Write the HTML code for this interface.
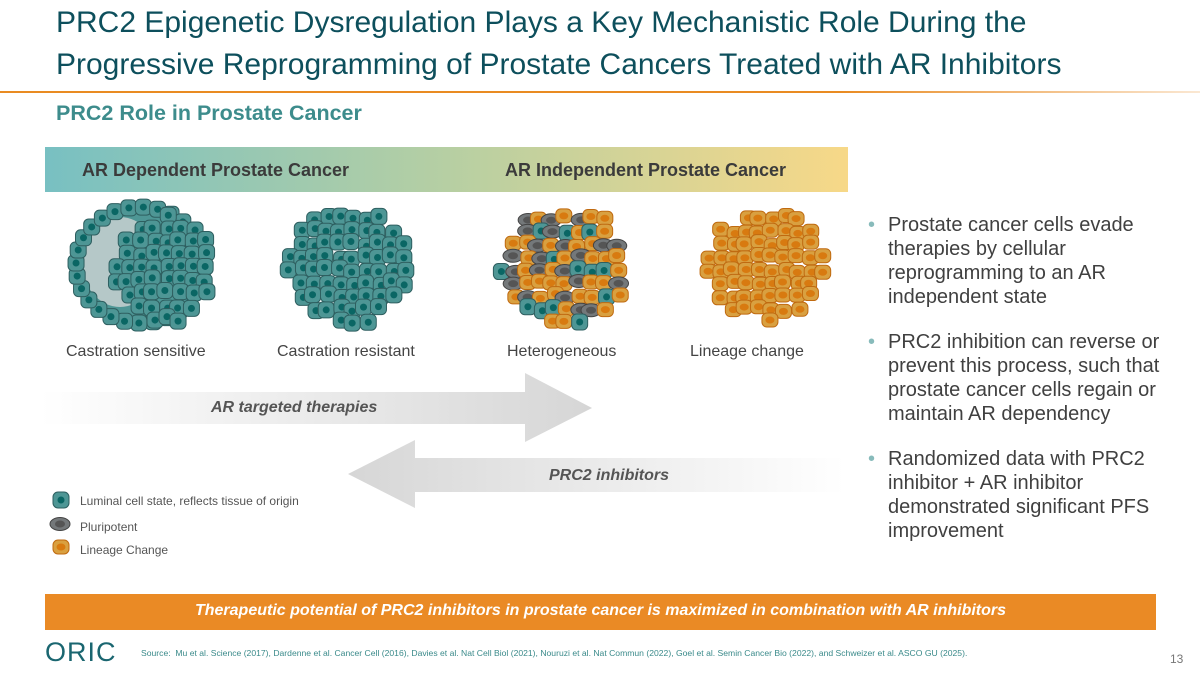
<!DOCTYPE html>
<html><head><meta charset="utf-8"><style>
*{margin:0;padding:0;box-sizing:border-box}
body{width:1200px;height:675px;position:relative;overflow:hidden;background:#fff;font-family:"Liberation Sans",Arial,sans-serif}
.abs{position:absolute;white-space:nowrap}
h1{position:absolute;left:56px;top:2px;font-size:30px;font-weight:normal;color:#0d4f5c;line-height:42px}
</style></head><body>
<h1>PRC2 Epigenetic Dysregulation Plays a Key Mechanistic Role During the<br>Progressive Reprogramming of Prostate Cancers Treated with AR Inhibitors</h1>
<div class="abs" style="left:0;top:91px;width:1200px;height:2px;background:linear-gradient(90deg,#e98b22 0%,#e98b22 70%,rgba(233,139,34,0.2) 100%)"></div>
<div class="abs" style="left:56px;top:101px;font-size:21.5px;font-weight:bold;color:#3d8c8c">PRC2 Role in Prostate Cancer</div>
<div class="abs" style="left:45px;top:147px;width:803px;height:45px;background:linear-gradient(90deg,#78c0c2 0%,#b6cfa3 50%,#f7d888 100%)"></div>
<div class="abs" style="left:82px;top:160px;font-size:18px;font-weight:bold;color:#3b3b3b">AR Dependent Prostate Cancer</div>
<div class="abs" style="left:505px;top:160px;font-size:18px;font-weight:bold;color:#3b3b3b">AR Independent Prostate Cancer</div>
<svg class="abs" style="left:0;top:0" width="1200" height="675" id="s">
<defs>
<linearGradient id="g1" x1="0" x2="1"><stop offset="0" stop-color="#fff"/><stop offset="1" stop-color="#d6d6d6"/></linearGradient>
<linearGradient id="g2" x1="0" x2="1"><stop offset="0" stop-color="#d6d6d6"/><stop offset="1" stop-color="#fff"/></linearGradient>
</defs>
<polygon points="40,392 525,392 525,373 592,408 525,442 525,424 40,424" fill="url(#g1)"/>
<polygon points="845,458 415,458 415,440 348,474 415,508 415,492 845,492" fill="url(#g2)"/>
<g id="cells"></g>
</svg>
<div class="abs" style="left:66px;top:343px;font-size:16px;color:#444">Castration sensitive</div>
<div class="abs" style="left:277px;top:343px;font-size:16px;color:#444">Castration resistant</div>
<div class="abs" style="left:507px;top:343px;font-size:16px;color:#444">Heterogeneous</div>
<div class="abs" style="left:690px;top:343px;font-size:16px;color:#444">Lineage change</div>
<div class="abs" style="left:211px;top:399px;font-size:16px;font-weight:bold;font-style:italic;color:#555">AR targeted therapies</div>
<div class="abs" style="left:549px;top:467px;font-size:16px;font-weight:bold;font-style:italic;color:#555">PRC2 inhibitors</div>
<div class="abs" style="left:80px;top:494px;font-size:12px;color:#555">Luminal cell state, reflects tissue of origin</div>
<div class="abs" style="left:80px;top:520px;font-size:12px;color:#555">Pluripotent</div>
<div class="abs" style="left:80px;top:543px;font-size:12px;color:#555">Lineage Change</div>
<div class="abs" style="left:868px;top:213px;font-size:20px;color:#404040;line-height:24px;white-space:normal;width:320px">
<div style="position:relative;padding-left:20px"><span style="position:absolute;left:0;color:#8bb">•</span>Prostate cancer cells evade therapies by cellular reprogramming to an AR independent state</div>
<div style="position:relative;padding-left:20px;margin-top:21px"><span style="position:absolute;left:0;color:#8bb">•</span>PRC2 inhibition can reverse or prevent this process, such that prostate cancer cells regain or maintain AR dependency</div>
<div style="position:relative;padding-left:20px;margin-top:21px"><span style="position:absolute;left:0;color:#8bb">•</span>Randomized data with PRC2 inhibitor + AR inhibitor demonstrated significant PFS improvement</div>
</div>
<div class="abs" style="left:45px;top:594px;width:1111px;height:36px;background:#ea8a25"></div>
<div class="abs" style="left:45px;top:602px;width:1111px;text-align:center;font-size:16px;font-weight:bold;font-style:italic;color:#fff">Therapeutic potential of PRC2 inhibitors in prostate cancer is maximized in combination with AR inhibitors</div>
<div class="abs" style="left:45px;top:638px;font-size:27px;color:#1a6670;letter-spacing:1px;line-height:28px">ORIC</div>
<div class="abs" style="left:141px;top:648px;font-size:8.6px;color:#3a8a8a">Source:&nbsp; Mu et al. Science (2017), Dardenne et al. Cancer Cell (2016), Davies et al. Nat Cell Biol (2021), Nouruzi et al. Nat Commun (2022), Goel et al. Semin Cancer Bio (2022), and Schweizer et al. ASCO GU (2025).</div>
<div class="abs" style="left:1170px;top:652px;font-size:12px;color:#777">13</div>
<script>
var g=document.getElementById('cells'),h='';var seed=7;function r(){seed=(seed*16807)%2147483647;return seed/2147483647;}
function teal(x,y){h+='<rect x="'+(x-8)+'" y="'+(y-8)+'" width="16" height="16" rx="5" fill="#4e9695" stroke="#2e5f60" stroke-width="1"/><circle cx="'+x+'" cy="'+y+'" r="3.5" fill="#0a6664"/>';}
function grey(x,y){h+='<ellipse cx="'+x+'" cy="'+y+'" rx="10" ry="6.5" fill="#74787a" stroke="#444" stroke-width="1"/><ellipse cx="'+x+'" cy="'+y+'" rx="5" ry="3.5" fill="#555"/>';}
function org(x,y){h+='<rect x="'+(x-8)+'" y="'+(y-7)+'" width="16" height="14" rx="5" fill="#d9a040" stroke="#c06a10" stroke-width="1"/><ellipse cx="'+x+'" cy="'+y+'" rx="4.5" ry="3.5" fill="#d87a10"/>';}
function cluster(cx,cy,rx,ry,fn){for(var y=cy-ry;y<=cy+ry;y+=13){for(var x=cx-rx;x<=cx+rx;x+=13){var px=x+(r()-.5)*5,py=y+(r()-.5)*5;var d=((px-cx)/rx)**2+((py-cy)/ry)**2;if(d<=1)fn(px,py);}}}
h+='<ellipse cx="140" cy="265" rx="66" ry="60" fill="#4e9695" stroke="#2e5f60"/><ellipse cx="120" cy="262" rx="38" ry="45" fill="#b5c8c8"/>';
for(var a=0;a<360;a+=13){var t=a*Math.PI/180;var x=140+64*Math.cos(t),y=265+58*Math.sin(t);teal(x,y);}
cluster(165,270,50,55,teal);
cluster(350,265,62,60,teal);
cluster(565,265,64,60,function(x,y){var q=r();if(q<0.5)org(x,y);else if(q<0.75)teal(x,y);else grey(x,y);});
cluster(767,265,60,60,org);
teal(61,500);grey(60,524);org(61,547);
g.innerHTML=h;
</script>
</body></html>
